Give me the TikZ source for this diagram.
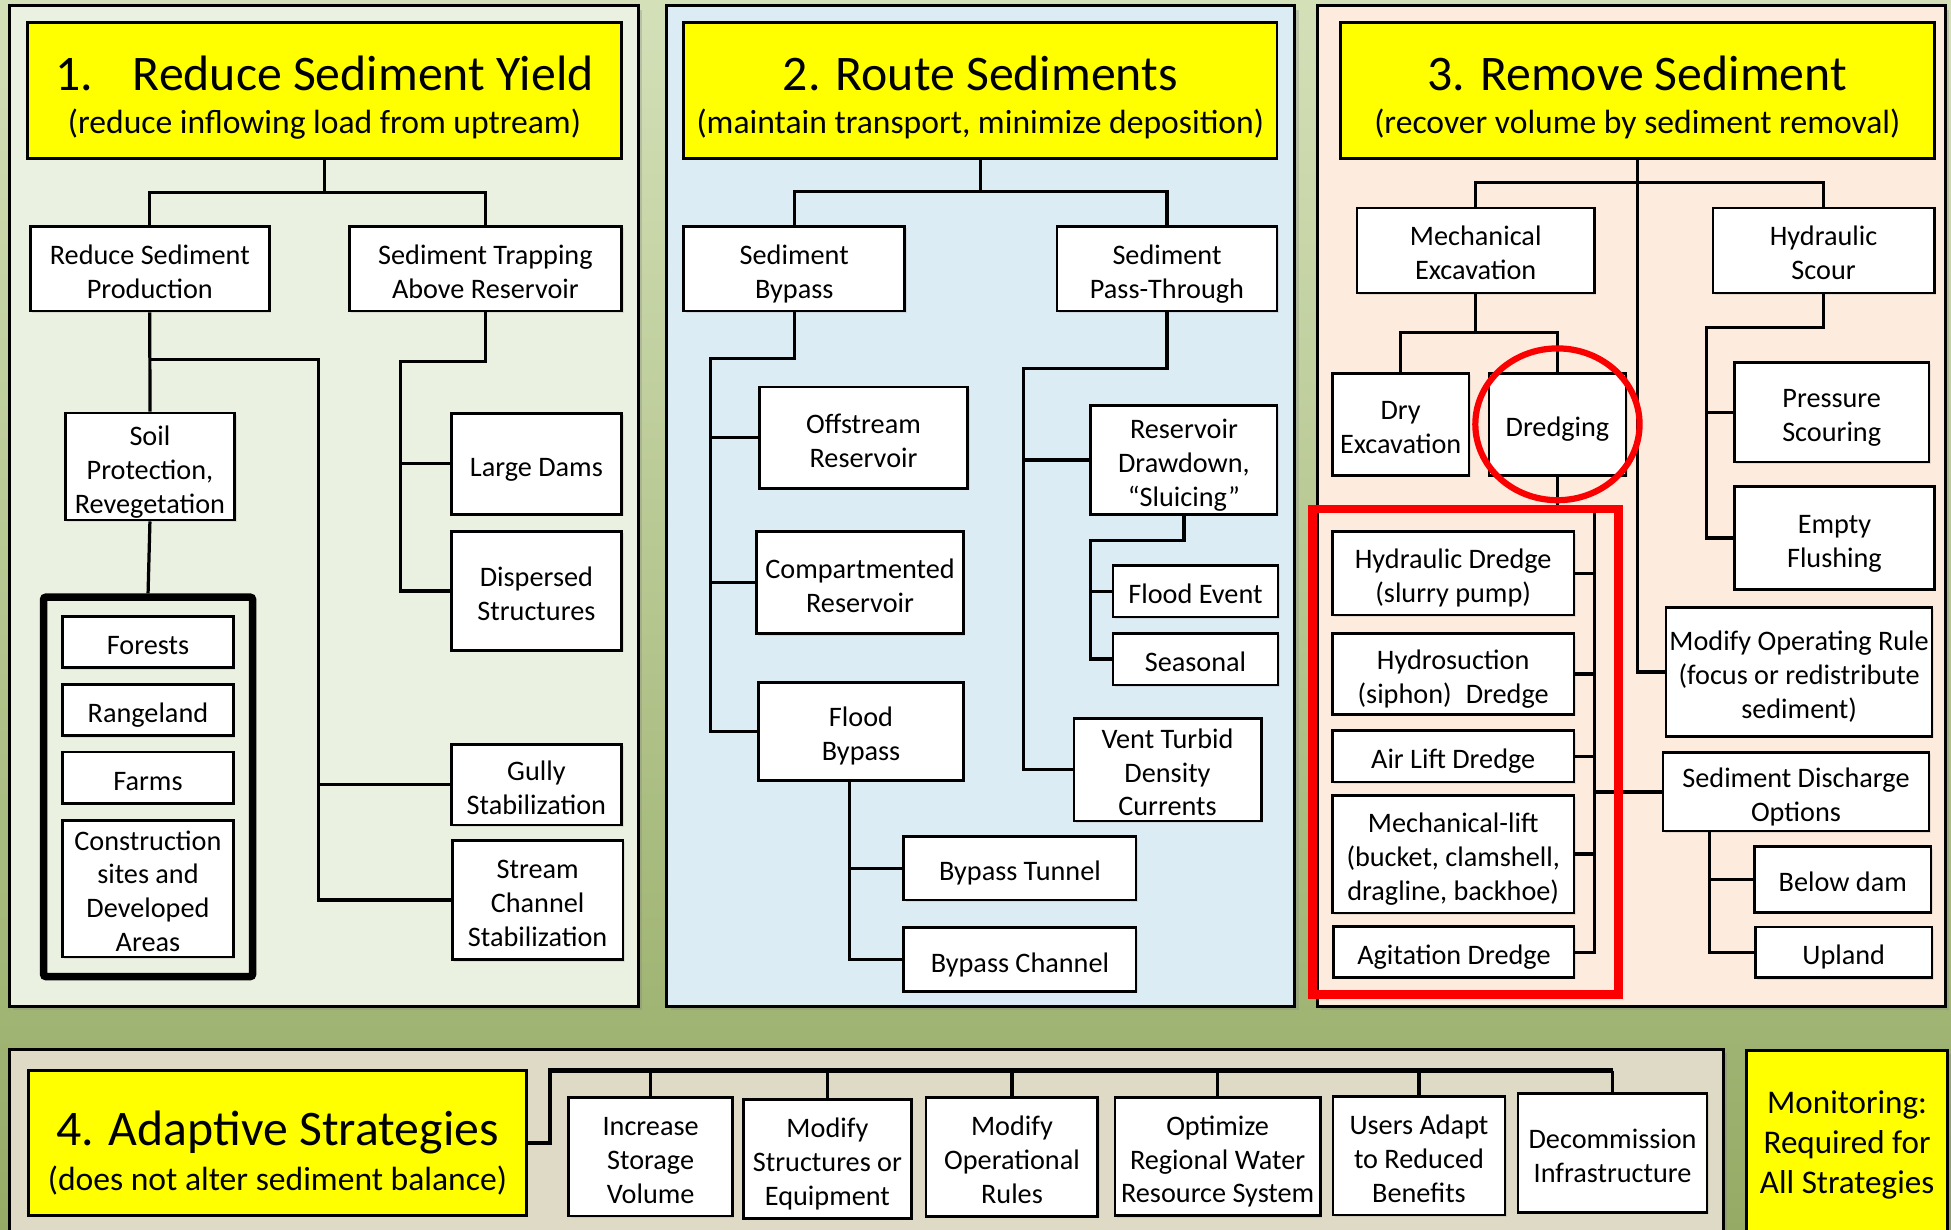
\documentclass[tikz,border=0pt]{standalone}
\usepackage{fontspec}
\setmainfont{Carlito}
\usetikzlibrary{shadows}
\definecolor{bgtop}{RGB}{212,224,184}
\definecolor{bgbot}{RGB}{149,171,101}
\definecolor{paneA}{RGB}{235,241,224}
\definecolor{paneB}{RGB}{220,236,244}
\definecolor{paneC}{RGB}{253,235,222}
\definecolor{paneD}{RGB}{222,218,198}
\definecolor{hilite}{RGB}{255,255,0}
\definecolor{markred}{RGB}{250,0,0}
\newcommand\bodyfont{\fontsize{22.7}{27.3}\selectfont}
\newcommand\bigttl{\fontsize{40}{40}\selectfont}
\newcommand\subttl{\fontsize{27}{34.5}\selectfont}
\newcommand\monfont{\fontsize{26.6}{32.5}\selectfont}
\newcommand\fst{\rule{0pt}{24pt}}
\begin{document}
\begin{tikzpicture}[x=1pt,y=-1pt,
	sz/.style 2 args={minimum width=#1pt,minimum height=#2pt},
	panel/.style={draw=black,line width=2.4pt,drop shadow={opacity=.3,shadow xshift=3pt,shadow yshift=-3pt}},
	box/.style={draw=black,fill=white,line width=2.2pt,inner xsep=1pt,inner ysep=0pt,align=center,font=\bodyfont,
		execute at begin node={\fst},execute at end node={\rule[-4pt]{0pt}{4pt}},
		drop shadow={opacity=.18,shadow xshift=1.5pt,shadow yshift=-1.5pt}},
	titlebox/.style={draw=black,fill=hilite,line width=2.4pt,inner sep=0pt,align=center,font=\subttl},
	conn/.style={line width=2.6pt},
	busline/.style={line width=3.8pt}]
	\useasboundingbox (0,0) rectangle (1568,988);
	\clip (0,0) rectangle (1568,988);
	\shade[top color=bgtop,bottom color=bgbot] (0,0) rectangle (1568,988);
	
	\draw[panel,fill=paneA] (7.5,4.8) rectangle (513,809);
	\draw[panel,fill=paneB] (535.9,4.8) rectangle (1040.6,809);
	\draw[panel,fill=paneC] (1059,4.8) rectangle (1563.5,809);
	\draw[panel,fill=paneD] (7.5,843.3) rectangle (1385.2,1000);
	
	% 1. reduce yield
	\node[titlebox,sz={477.6}{109}] (t1) at (260.8,72.7) {{\bigttl\rule{0pt}{39pt}1.\hspace{32pt}Reduce Sediment Yield}\\(reduce inflowing load from uptream)};
	\node[box,sz={192}{68}] (rsp) at (120.4,216) {\fst Reduce Sediment\\Production};
	\node[box,sz={219}{68}] (star) at (390.1,216) {\fst Sediment Trapping\\Above Reservoir};
	\node[box,sz={136.3}{86}] (soil) at (120.5,375) {\fst Soil\\Protection,\\Revegetation};
	\node[box,sz={137}{81}] (dams) at (431.1,372.7) {Large Dams};
	\node[box,sz={137}{95.5}] (disp) at (431.1,475) {\fst Dispersed\\Structures};
	\node[box,sz={137}{64.7}] (gully) at (431.1,630.6) {\fst Gully\\Stabilization};
	\node[box,sz={137}{95.8}] (strm) at (432.1,723.4) {\fst Stream\\Channel\\Stabilization};
	\node[draw,line width=6pt,fill=paneA,rounded corners=2pt,sz={168}{305},
		drop shadow={opacity=.3,shadow xshift=2pt,shadow yshift=-2pt}] (grp) at (119,632.4) {};
	\node[box,sz={137.7}{41}] (fore) at (118.9,516.1) {Forests};
	\node[box,sz={137.7}{41.5}] (range) at (118.9,570.6) {Rangeland};
	\node[box,sz={137.7}{41.5}] (farm) at (118.9,625.1) {Farms};
	\node[box,sz={137.7}{109.8}] (cons) at (118.9,714.1) {\fst Construction\\sites and\\Developed\\Areas};
	
	\coordinate (h1) at (260.8,154.6);
	\coordinate (b1) at (256,288.8);
	\coordinate (b2) at (322,290.7);
	\draw[conn] (t1.south) -- (h1);
	\draw[conn] (rsp.north) |- (h1) -| (star.north);
	\draw[conn] (rsp.south) -- (soil.north);
	\draw[conn] (rsp.south |- b1) -- (b1) |- (strm.west);
	\draw[conn] (b1 |- gully.west) -- (gully.west);
	\draw[conn] (soil.south) -- (grp.north);
	\draw[conn] (star.south) |- (b2) |- (disp.west);
	\draw[conn] (b2 |- dams.west) -- (dams.west);
	
	% 2. route
	\node[titlebox,sz={476.8}{109}] (t2) at (787.9,72.7) {{\bigttl\rule{0pt}{39pt}2. Route Sediments}\\(maintain transport, minimize deposition)};
	\node[box,sz={177.5}{68}] (sb) at (638.3,216) {\fst Sediment\\Bypass};
	\node[box,sz={176.8}{68}] (spt) at (937.9,216) {\fst Sediment\\Pass-Through};
	\node[box,sz={167.5}{81.4}] (off) at (694,351.7) {\fst Offstream\\Reservoir};
	\node[box,sz={166.4}{82}] (comp) at (691.2,468.4) {\fst Compartmented\\Reservoir};
	\node[box,sz={164.7}{79}] (fbp) at (692,587.8) {\fst Flood\\Bypass};
	\node[box,sz={186.6}{51.2}] (btun) at (819.7,697.8) {Bypass Tunnel};
	\node[box,sz={186.6}{51.2}] (bch) at (819.7,771.2) {Bypass Channel};
	\node[box,sz={149.7}{87.7}] (ddn) at (951.5,369.6) {\fst Reservoir\\Drawdown,\\“Sluicing”};
	\node[box,sz={132.5}{41.5}] (fev) at (960.8,475.2) {Flood Event};
	\node[box,sz={132.5}{41.5}] (seas) at (960.8,529.7) {Seasonal};
	\node[box,sz={150.5}{82.4}] (vent) at (938.3,618.5) {\fst Vent Turbid\\Density\\Currents};
	
	\coordinate (h2) at (787.9,153.8);
	\coordinate (b3) at (570.8,287.9);
	\coordinate (b4) at (822.4,295.9);
	\coordinate (b5) at (876.6,434.2);
	\coordinate (b6) at (683,627.3);
	\draw[conn] (t2.south) -- (h2);
	\draw[conn] (sb.north) |- (h2) -| (spt.north);
	\draw[conn] (sb.south) |- (b3) |- (fbp.west);
	\draw[conn] (b3 |- off.west) -- (off.west);
	\draw[conn] (b3 |- comp.west) -- (comp.west);
	\draw[conn] (spt.south) |- (b4) |- (vent.west);
	\draw[conn] (b4 |- ddn.west) -- (ddn.west);
	\draw[conn] (ddn.south) |- (b5) |- (seas.west);
	\draw[conn] (b5 |- fev.west) -- (fev.west);
	\draw[conn] (b6) |- (bch.west);
	\draw[conn] (b6 |- btun.west) -- (btun.west);
	
	% 3. remove
	\node[titlebox,sz={477.3}{109}] (t3) at (1315.85,72.7) {{\bigttl\rule{0pt}{39pt}3. Remove Sediment}\\(recover volume by sediment removal)};
	\node[box,sz={191}{68.2}] (mex) at (1186,201.3) {\fst Mechanical\\Excavation};
	\node[box,sz={177.8}{68.2}] (hsc) at (1465.6,201.3) {\fst Hydraulic\\Scour};
	\node[box,sz={109.8}{82.1}] (dry) at (1125.7,341) {\fst Dry\\Excavation};
	\node[box,sz={110.1}{82.1}] (dredg) at (1251.7,341) {Dredging};
	\node[box,sz={194.2}{67}] (hdr) at (1167.9,460.8) {\fst Hydraulic Dredge\\(slurry pump)};
	\node[box,sz={194.2}{64.6}] (hsu) at (1167.9,541.7) {\fst Hydrosuction\\(siphon)\hspace{0.5em}Dredge};
	\node[box,sz={194.2}{41.3}] (alift) at (1167.9,607.9) {Air Lift Dredge};
	\node[box,sz={194.2}{94.7}] (mlift) at (1167.9,686.4) {\fst Mechanical-lift\\(bucket, clamshell,\\dragline, backhoe)};
	\node[box,sz={193}{41}] (agit) at (1168.5,765.2) {Agitation Dredge};
	\node[box,sz={156.2}{80}] (pscr) at (1472.1,331.3) {\fst Pressure\\Scouring};
	\node[box,sz={160.5}{83.1}] (eflu) at (1474.3,432.3) {\fst Empty\\Flushing};
	\node[box,sz={213.8}{103.8}] (mor) at (1445.9,540) {\fst Modify Operating Rule\\(focus or redistribute\\sediment)};
	\node[box,sz={213.6}{63.1}] (sdo) at (1443.4,636.4) {\fst Sediment Discharge\\Options};
	\node[box,sz={141.9}{52.6}] (bdam) at (1481,706.8) {Below dam};
	\node[box,sz={142}{40.7}] (upl) at (1481.8,765.4) {Upland};
	
	\coordinate (h3) at (1315.6,146.6);
	\coordinate (b9) at (1186,267.4);
	\coordinate (b7) at (1281.6,409);
	\coordinate (b10) at (1371.7,263.1);
	\coordinate (b8) at (1374,668);
	\draw[conn] (t3.south) |- (mor.west);
	\draw[conn] (mex.north) |- (h3) -| (hsc.north);
	\draw[conn] (mex.south) -- (b9);
	\draw[conn] (dry.north) |- (b9) -| (dredg.north);
	\draw[conn] (dredg.south) |- (b7) |- (agit.east);
	\foreach \n in {hdr,hsu,alift,mlift}
		\draw[conn] (b7 |- \n.east) -- (\n.east);
	\draw[conn,line width=3.5pt] (b7 |- sdo.west) -- (sdo.west);
	\draw[conn] (hsc.south) |- (b10) |- (eflu.west);
	\draw[conn] (b10 |- pscr.west) -- (pscr.west);
	\draw[conn] (b8) |- (upl.west);
	\draw[conn] (b8 |- bdam.west) -- (bdam.west);
	
	\draw[markred,line width=5pt] (dredg.center) ellipse [x radius=66, y radius=61];
	\node[draw=markred,line width=7pt,sz={246}{390}] (dsel) at (1178,604) {};
	
	% 4. adaptive
	\node[titlebox,sz={400.9}{115.8},font=\fontsize{27}{36}\selectfont] (t4) at (223,918.6) {{\bigttl\rule{0pt}{44pt}4. Adaptive Strategies}\\(does not alter sediment balance)};
	\node[box,sz={131.6}{95.1}] (isv) at (522.9,929.8) {\fst Increase\\Storage\\Volume};
	\node[box,sz={134.6}{95.6}] (mse) at (665,931.3) {\fst Modify\\Structures or\\Equipment};
	\node[box,sz={138}{95.7}] (mopr) at (813.3,929.9) {\fst Modify\\Operational\\Rules};
	\node[box,sz={165.1}{95}] (orw) at (978.6,929.5) {\fst Optimize\\Regional Water\\Resource System};
	\node[box,sz={138.2}{95}] (uar) at (1140.4,929) {\fst Users Adapt\\to Reduced\\Benefits};
	\node[box,sz={151.9}{95.6}] (dcm) at (1296,926.5) {\fst Decommission\\Infrastructure};
	\node[titlebox,sz={161}{150},font=\monfont,drop shadow={opacity=.3,shadow xshift=3pt,shadow yshift=-3pt}] (mon) at (1484.5,919) {\rule{0pt}{23pt}Monitoring:\\Required for\\All Strategies\rule[-7pt]{0pt}{7pt}};
	
	\coordinate (bus) at (442,860.5);
	\draw[busline] (t4.east) -| (bus) -- (bus -| dcm.north);
	\foreach \n in {isv,mse,mopr,orw,uar,dcm}
		\draw[conn] (bus -| \n.north) -- (\n.north);
\end{tikzpicture}
\end{document}
